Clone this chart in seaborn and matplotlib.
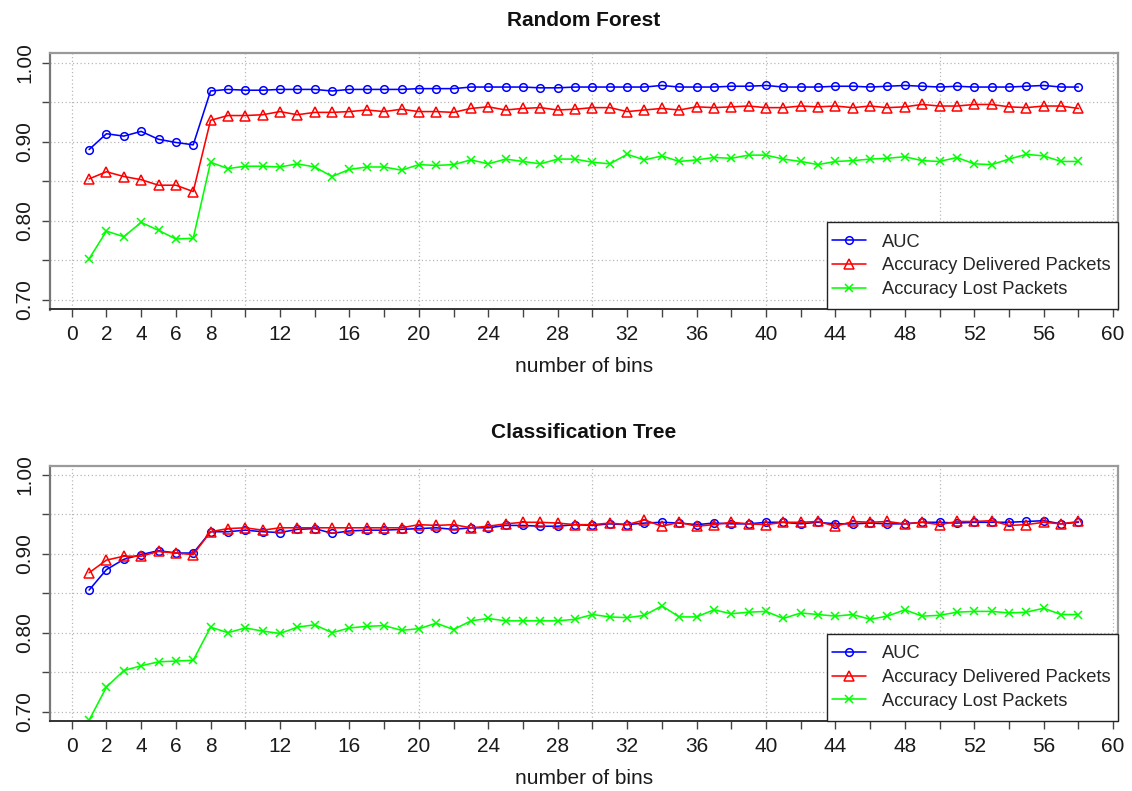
import numpy as np
import pandas as pd
import matplotlib
matplotlib.use("Agg")
import matplotlib.pyplot as plt
from matplotlib.patches import Rectangle
import seaborn as sns

# ---------------- data ----------------
bins = list(range(1, 59))

rf_auc = [0.890, 0.910, 0.907, 0.913, 0.903, 0.899, 0.896, 0.964, 0.966, 0.965,
          0.965, 0.966, 0.966, 0.966, 0.964, 0.966, 0.966, 0.966, 0.966, 0.967,
          0.967, 0.967, 0.969, 0.969, 0.969, 0.969, 0.968, 0.968, 0.969, 0.969,
          0.969, 0.969, 0.969, 0.971, 0.969, 0.969, 0.969, 0.970, 0.970, 0.971,
          0.969, 0.969, 0.969, 0.970, 0.970, 0.969, 0.970, 0.971, 0.970, 0.969,
          0.970, 0.969, 0.969, 0.969, 0.970, 0.971, 0.969, 0.969]
rf_delivered = [0.853, 0.862, 0.856, 0.852, 0.845, 0.845, 0.837, 0.927, 0.933, 0.933,
                0.934, 0.938, 0.934, 0.937, 0.937, 0.938, 0.940, 0.938, 0.941, 0.938,
                0.938, 0.937, 0.942, 0.944, 0.940, 0.942, 0.943, 0.940, 0.941, 0.943,
                0.943, 0.938, 0.940, 0.942, 0.940, 0.944, 0.943, 0.944, 0.945, 0.943,
                0.943, 0.945, 0.944, 0.945, 0.943, 0.945, 0.943, 0.944, 0.947, 0.945,
                0.945, 0.947, 0.947, 0.944, 0.943, 0.945, 0.945, 0.942]
rf_lost = [0.752, 0.787, 0.780, 0.798, 0.788, 0.777, 0.778, 0.874, 0.866, 0.869,
           0.869, 0.868, 0.872, 0.868, 0.856, 0.865, 0.868, 0.868, 0.864, 0.871,
           0.870, 0.871, 0.877, 0.872, 0.878, 0.875, 0.872, 0.878, 0.878, 0.874,
           0.872, 0.884, 0.877, 0.882, 0.875, 0.877, 0.880, 0.879, 0.883, 0.883,
           0.878, 0.875, 0.871, 0.875, 0.876, 0.878, 0.879, 0.881, 0.876, 0.875,
           0.880, 0.872, 0.871, 0.878, 0.884, 0.882, 0.875, 0.875]

ct_auc = [0.854, 0.880, 0.893, 0.899, 0.904, 0.901, 0.901, 0.928, 0.928, 0.930,
          0.928, 0.927, 0.931, 0.932, 0.926, 0.929, 0.930, 0.930, 0.931, 0.932,
          0.933, 0.931, 0.933, 0.933, 0.936, 0.936, 0.935, 0.935, 0.937, 0.936,
          0.938, 0.937, 0.939, 0.940, 0.939, 0.937, 0.939, 0.938, 0.938, 0.940,
          0.940, 0.938, 0.940, 0.938, 0.938, 0.939, 0.938, 0.938, 0.940, 0.940,
          0.939, 0.940, 0.940, 0.940, 0.941, 0.942, 0.938, 0.940]
ct_delivered = [0.876, 0.892, 0.897, 0.897, 0.903, 0.901, 0.899, 0.928, 0.932, 0.933,
                0.930, 0.933, 0.933, 0.933, 0.933, 0.933, 0.933, 0.933, 0.933, 0.937,
                0.936, 0.937, 0.933, 0.935, 0.938, 0.940, 0.940, 0.939, 0.937, 0.937,
                0.939, 0.937, 0.943, 0.935, 0.940, 0.935, 0.937, 0.940, 0.938, 0.937,
                0.940, 0.940, 0.941, 0.935, 0.941, 0.940, 0.941, 0.938, 0.940, 0.937,
                0.941, 0.941, 0.942, 0.936, 0.937, 0.940, 0.938, 0.941]
ct_lost = [0.689, 0.731, 0.752, 0.758, 0.763, 0.764, 0.765, 0.807, 0.800, 0.806,
           0.802, 0.799, 0.807, 0.810, 0.800, 0.806, 0.808, 0.809, 0.803, 0.805,
           0.812, 0.804, 0.815, 0.818, 0.815, 0.815, 0.815, 0.815, 0.817, 0.823,
           0.820, 0.819, 0.822, 0.834, 0.820, 0.820, 0.829, 0.824, 0.826, 0.827,
           0.818, 0.825, 0.823, 0.821, 0.823, 0.817, 0.821, 0.829, 0.821, 0.822,
           0.826, 0.827, 0.827, 0.825, 0.826, 0.831, 0.823, 0.823]

series_names = ["AUC", "Accuracy Delivered Packets", "Accuracy Lost Packets"]
panel_titles = ["Random Forest", "Classification Tree"]
x_label = "number of bins"

x_ticks = list(range(0, 61, 2))
x_tick_labels = ["0", "2", "4", "6", "8", "", "12", "", "16", "", "20", "", "24", "",
                 "28", "", "32", "", "36", "", "40", "", "44", "", "48", "", "52", "",
                 "56", "", "60"]
y_ticks = [0.70, 0.75, 0.80, 0.85, 0.90, 0.95, 1.00]
y_tick_labels = ["0.70", "", "0.80", "", "0.90", "", "1.00"]

# ---------------- style ----------------
sns.set_theme(style="white")
plt.rcParams["font.family"] = ["Liberation Sans", "DejaVu Sans"]

colors = ["#0000FF", "#FF0000", "#00FF00"]
markers = ["o", "^", "x"]

W, H = 1132, 791
fig = plt.figure(figsize=(W / 100, H / 100), dpi=100)

def fx(px):
    return px / W

def fy(py):
    return 1 - py / H

panels = [
    dict(top=53, bottom=309.5, data=[rf_auc, rf_delivered, rf_lost], title_y=20, xlabel_y=367),
    dict(top=465.5, bottom=721, data=[ct_auc, ct_delivered, ct_lost], title_y=432, xlabel_y=778),
]
left_px, right_px = 49.5, 1118

FS = 15.0      # axis / title text
LFS = 13.2     # legend text

for p, title in zip(panels, panel_titles):
    ax_h_px = p["bottom"] - p["top"]
    ax_w_px = right_px - left_px
    ax = fig.add_axes([fx(left_px), fy(p["bottom"]), fx(right_px) - fx(left_px),
                       fy(p["top"]) - fy(p["bottom"])])
    ax.set_facecolor("white")
    # grid
    for gy in y_ticks:
        ax.axhline(gy, color="#b8b8b8", lw=0.9, ls=(0, (1, 2)), zorder=0)
    for gx in range(0, 61, 10):
        ax.axvline(gx, color="#b8b8b8", lw=0.9, ls=(0, (1, 2)), zorder=0)

    df = pd.DataFrame({
        "bins": bins * 3,
        "value": sum(p["data"], []),
        "series": sum([[n] * len(bins) for n in series_names], []),
    })
    for name, c, m in zip(series_names, colors, markers):
        sub = df[df["series"] == name]
        kw = dict(marker=m, color=c, lw=1.15, markersize=6.5 if m == "^" else 5.5,
                  markeredgewidth=1.1, markeredgecolor=c, label=name)
        if m != "x":
            kw["markerfacecolor"] = "none"
        sns.lineplot(data=sub, x="bins", y="value", ax=ax, legend=False, **kw)

    ax.set_xlim(-1.28, 60.28)
    ax.set_ylim(0.688, 1.012)
    ax.set_xticks(x_ticks)
    ax.set_xticklabels(x_tick_labels, fontsize=FS, color="#1a1a1a")
    ax.set_yticks(y_ticks)
    ax.set_yticklabels(y_tick_labels, fontsize=FS, rotation=90, va="center", color="#1a1a1a")
    ax.tick_params(axis="both", which="major", bottom=True, left=True, top=False, right=False,
                   direction="out", length=6, width=1.0, color="#444444")
    ax.tick_params(axis="x", pad=5.5)
    ax.tick_params(axis="y", pad=5)
    ax.set_xlabel("")
    ax.set_ylabel("")

    for s in ["top", "right"]:
        ax.spines[s].set_color("#9a9a9a")
        ax.spines[s].set_linewidth(1.6)
    ax.spines["left"].set_color("#777777")
    ax.spines["left"].set_linewidth(1.6)
    ax.spines["bottom"].set_color("#333333")
    ax.spines["bottom"].set_linewidth(1.4)

    # legend box (frame drawn as a patch so vertical/horizontal padding can differ)
    lx0 = (827 - left_px) / ax_w_px
    lh = 87 / ax_h_px
    ax.add_patch(Rectangle((lx0, 0), 1 - lx0, lh, transform=ax.transAxes,
                           facecolor="white", edgecolor="#222222", lw=1.0,
                           zorder=5, clip_on=False))
    handles = ax.get_lines()[-3:]
    leg = ax.legend(handles=handles, labels=series_names, loc="center left",
                    bbox_to_anchor=(lx0, lh / 2), borderaxespad=0, fontsize=LFS,
                    frameon=False, handlelength=1.85, handletextpad=0.9,
                    labelspacing=0.36, borderpad=0.25)
    leg.set_zorder(6)

    fig.text(fx((left_px + right_px) / 2), fy(p["title_y"]), title, ha="center",
             va="center", fontsize=FS, fontweight="bold", color="#111111")
    fig.text(fx((left_px + right_px) / 2), fy(p["xlabel_y"]), x_label, ha="center",
             va="center", fontsize=FS, color="#1a1a1a")

fig.savefig("out.png", dpi=100)
